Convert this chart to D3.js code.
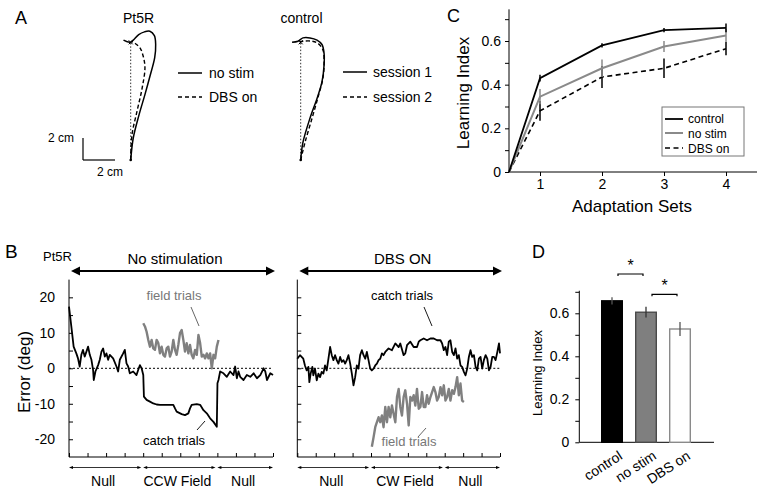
<!DOCTYPE html>
<html><head><meta charset="utf-8">
<script src="https://cdn.jsdelivr.net/npm/d3@7"></script>
<style>body{margin:0;background:#fff} svg{display:block} text{font-family:"Liberation Sans",Arial,Helvetica,sans-serif}</style>
</head><body><svg id="c" width="761" height="494"></svg>
<script>
// ---------- DATA ----------
// Panel A: hand trajectories (cm); [x, y]
const pt5rNoStim = [[0,0],[0.16,2.0],[0.52,4.1],[0.88,5.9],[1.22,7.7],[1.5,9.3],[1.56,10.5],[1.48,11.3],[1.2,11.7],[0.86,11.65],[0.5,11.4],[0.16,10.9],[-0.04,10.7],[-0.45,10.9]];
const pt5rDBS = [[0,0],[0.08,2.3],[0.39,4.4],[0.71,6.5],[0.89,8.4],[0.77,9.5],[0.58,10.2],[0.27,10.6],[0.02,10.8]];
const ctrlSession1 = [[0,0],[0.14,1.6],[0.58,3.8],[1.02,5.6],[1.33,7.1],[1.46,8.6],[1.46,9.7],[1.33,10.5],[1.02,10.9],[0.58,11.1],[0.14,11.1],[-0.17,10.8],[-0.54,10.7]];
const ctrlSession2 = [[0,0],[0.27,1.6],[0.71,3.8],[1.08,5.7],[1.39,7.45],[1.46,8.9],[1.39,10.0],[1.08,10.6],[0.71,10.8],[0.14,10.8],[-0.17,10.7]];
const targetDist = 10.7;

// Panel B: error (deg) vs trial; [trial, deg]
const noStimCatch = [[0,17.4],[2.5,11.8],[5,6.1],[7.9,4.2],[9.7,2.8],[11.5,0.5],[13.3,3.8],[15.1,5.2],[16.9,3.3],[18.8,4.7],[20.6,6.1],[22.4,3.8],[24.2,2.4],[26,-0.5],[26.7,-3.3],[28.5,-0.9],[31.4,0.9],[33.2,2.4],[35,4.7],[36.8,5.6],[38.6,3.3],[40.4,4.2],[42.2,2.4],[44,3.8],[47.6,2.8],[51.2,0.5],[53,-0.9],[54.8,2.4],[58.4,4.2],[60.2,5.2],[62,1.4],[63.8,0.5],[65.6,-1.4],[69.2,-0.9],[72.8,-1.9],[74.6,-0.5],[76.5,0.9],[78.3,0],[80.1,-1.9],[80.8,-8.0],[83.7,-8.9],[87.3,-9.4],[90.9,-9.9],[94.5,-10.2],[98.1,-10.3],[112.5,-10.3],[114.3,-11.3],[116.1,-12.2],[121.5,-12.9],[125.1,-13.2],[128.7,-12.7],[130.5,-11.3],[132.3,-10.3],[137.8,-10.1],[141.4,-10.3],[145,-11.8],[148.6,-12.7],[152.2,-14.1],[155.8,-15.1],[159.4,-16.5],[160.1,-4.2],[161.2,-3.3],[163,-0.9],[166.6,-1.4],[170.2,-2.4],[173.8,-0.9],[177.4,-1.9],[179.2,0.5],[181,-2.8],[182.8,-0.9],[184.6,-2.4],[188.2,-3.3],[191.8,-1.9],[195.5,-2.4],[199.1,-1.4],[202.7,-2.8],[206.3,-1.9],[209.9,0],[211.7,-0.9],[213.5,-3.3],[217.1,-1.4],[220,-1.9]];
const noStimField = [[80.1,12.7],[81.9,11.8],[83.7,10.3],[85.5,8.0],[87.3,6.1],[89.1,8.0],[90.9,5.6],[92.7,5.2],[94.5,8.0],[96.3,7.1],[98.1,4.2],[99.9,6.1],[101.7,3.8],[103.5,3.3],[105.3,5.6],[107.1,6.1],[108.9,3.3],[110.7,4.7],[112.5,8.0],[114.3,5.2],[116.1,3.8],[117.9,6.6],[119.7,9.9],[121.5,10.8],[123.3,8.0],[125.1,4.7],[126.9,7.1],[128.7,4.2],[130.5,6.6],[132.3,3.8],[134.1,2.8],[136,5.2],[137.8,3.8],[139.6,9.4],[141.4,7.1],[143.2,3.3],[145,3.8],[146.8,2.8],[148.6,4.2],[150.4,2.8],[152.2,4.2],[154,0],[155.8,3.8],[157.6,2.8],[159.4,6.1],[161.2,8.0]];
const dbsCatch = [[0,2.7],[2.9,3.7],[4.7,3.2],[6.5,2.7],[8.3,0.8],[10.2,-0.6],[12,0.4],[13.1,-3.9],[14.5,-1.5],[16.3,0.4],[17.4,-2.0],[19.2,-0.1],[21.1,-3.4],[22.9,-1.5],[24.7,-2.5],[26.5,-1.0],[28.3,-1.5],[30.1,0.8],[31.9,-0.6],[33.8,2.7],[35.6,6.0],[37.4,3.7],[39.2,2.3],[41,3.7],[42.8,2.3],[44.6,1.3],[46.5,3.2],[48.3,1.8],[50.1,2.3],[51.9,1.3],[53.7,2.3],[55.5,3.7],[57.4,1.3],[59.2,-1.5],[61,-4.8],[62.8,-2.5],[64.6,0.8],[66.4,-0.1],[68.2,3.7],[70.1,5.1],[71.9,3.7],[73.7,2.7],[75.5,4.6],[77.3,2.3],[79.1,-0.1],[80.9,-0.6],[82.8,-0.1],[84.6,0.8],[86.4,1.3],[88.2,2.3],[90,2.7],[91.8,4.2],[93.6,3.7],[95.5,4.6],[97.3,5.1],[99.1,5.6],[102.7,5.1],[106.4,7.0],[110,6.0],[111.8,7.0],[115.4,3.7],[117.2,4.2],[119.1,6.5],[122.7,7.5],[126.3,6.0],[129.9,6.0],[131.8,7.5],[133.6,7.9],[137.2,8.4],[140.8,7.9],[144.5,8.4],[148.1,8.4],[151.7,7.9],[155.4,7.9],[157.2,7.0],[159,5.1],[160.8,6.0],[162.6,3.7],[164.4,7.5],[166.2,7.9],[168.1,4.6],[169.9,3.7],[171.7,5.6],[173.5,2.7],[175.3,3.7],[177.1,0.8],[178.9,0.4],[180.8,-1.0],[182.6,-2.0],[184.4,-0.1],[186.2,3.2],[188,5.1],[189.8,3.2],[191.7,3.7],[193.5,0.4],[195.3,-0.6],[197.1,2.7],[198.9,3.2],[200.7,-0.1],[202.5,2.3],[204.4,3.7],[206.2,2.7],[208,-0.6],[209.8,0.4],[211.6,3.2],[213.4,3.2],[215.2,2.3],[217.1,4.6],[218.9,7.0],[220,4.2]];
const dbsField = [[80.9,-22.1],[82.8,-19.4],[84.6,-16.6],[86.4,-15.2],[88.2,-13.8],[90,-15.2],[91.8,-13.3],[93.6,-16.6],[95.5,-10.9],[97.3,-15.2],[99.1,-10.9],[100.9,-13.8],[102.7,-10.5],[104.5,-12.8],[106.4,-15.2],[108.2,-8.1],[110,-5.8],[111.8,-10.9],[113.6,-13.3],[115.4,-8.1],[117.2,-6.2],[119.1,-10.0],[120.9,-16.1],[122.7,-8.1],[124.5,-9.1],[126.3,-7.6],[128.1,-10.5],[129.9,-5.8],[131.8,-11.4],[133.6,-10.9],[135.4,-6.7],[137.2,-10.9],[139,-10.9],[140.8,-7.6],[142.6,-10.0],[144.5,-8.1],[146.3,-6.7],[148.1,-5.3],[149.9,-6.7],[151.7,-9.1],[153.5,-8.1],[155.4,-5.3],[157.2,-7.6],[159,-4.8],[160.8,-9.1],[162.6,-8.1],[164.4,-5.8],[166.2,-9.1],[168.1,-6.2],[169.9,-7.2],[171.7,-5.3],[173.5,-2.5],[175.3,-7.6],[177.1,-4.3],[178.9,-9.1],[180.8,-9.5]];
const bYTicks = [-20, -10, 0, 10, 20];
const leftPhases = ["Null", "CCW Field", "Null"];
const rightPhases = ["Null", "CW Field", "Null"];
const phaseBounds = [[0, 78], [80, 158], [160, 220]];

// Panel C: learning index by adaptation set
const setsX = [0.5, 1, 2, 3, 4];
const controlLI = [0, 0.43, 0.58, 0.65, 0.66];
const controlErr = [0, 0.015, 0.01, 0.01, 0.02];
const noStimLI = [0, 0.345, 0.475, 0.575, 0.625];
const noStimErr = [0, 0.035, 0.04, 0.025, 0.03];
const dbsLI = [0, 0.28, 0.435, 0.475, 0.565];
const dbsErr = [0, 0.045, 0.05, 0.045, 0.03];
const cTicks = [0, 0.2, 0.4, 0.6];

// Panel D: mean learning index
const dCategories = ["control", "no stim", "DBS on"];
const dValues = [0.658, 0.605, 0.527];
const dErrors = [0.017, 0.025, 0.033];
const dTicks = [0, 0.2, 0.4, 0.6];

// ---------- DRAW ----------
const svg = d3.select("#c");
const F = "Liberation Sans, Arial, sans-serif";
function txt(x, y, s, size, opts = {}) {
  return svg.append("text").attr("x", x).attr("y", y).text(s)
    .attr("font-size", size).attr("fill", opts.fill || "#000")
    .attr("text-anchor", opts.anchor || "start");
}
function seg(x1, y1, x2, y2, w = 1, c = "#000", dash = null) {
  const l = svg.append("line").attr("x1", x1).attr("y1", y1).attr("x2", x2).attr("y2", y2)
    .attr("stroke", c).attr("stroke-width", w);
  if (dash) l.attr("stroke-dasharray", dash);
  return l;
}
function dblArrow(x1, x2, y, w, hl, hw) {
  seg(x1 + hl * 0.5, y, x2 - hl * 0.5, y, w);
  svg.append("path").attr("d", `M${x1},${y}L${x1 + hl},${y - hw}L${x1 + hl},${y + hw}Z`).attr("fill", "#000");
  svg.append("path").attr("d", `M${x2},${y}L${x2 - hl},${y - hw}L${x2 - hl},${y + hw}Z`).attr("fill", "#000");
}

// ===== Panel A =====
txt(15, 24, "A", 18);
txt(138.5, 23, "Pt5R", 14, {anchor: "middle"});
txt(301.5, 23, "control", 14, {anchor: "middle"});
const yA = d3.scaleLinear([0, 1], [160, 149]);
function drawTraj(x0, solid, dashed) {
  const xA = d3.scaleLinear([0, 1], [x0, x0 + 16]);
  const line = d3.line().x(d => xA(d[0])).y(d => yA(d[1])).curve(d3.curveCatmullRom);
  seg(xA(0), yA(0), xA(0), yA(targetDist), 1, "#333", "1.5,1.8");
  svg.append("path").attr("d", line(dashed)).attr("fill", "none").attr("stroke", "#000").attr("stroke-width", 1.4).attr("stroke-dasharray", "4,2.5");
  svg.append("path").attr("d", line(solid)).attr("fill", "none").attr("stroke", "#000").attr("stroke-width", 1.5);
  svg.append("circle").attr("cx", xA(0)).attr("cy", yA(0)).attr("r", 1.3).attr("fill", "#000");
  seg(xA(0) - 2, yA(targetDist) - 2, xA(0) + 2, yA(targetDist) + 2, 1);
  seg(xA(0) - 2, yA(targetDist) + 2, xA(0) + 2, yA(targetDist) - 2, 1);
  return xA;
}
drawTraj(130.7, pt5rNoStim, pt5rDBS);
drawTraj(300.7, ctrlSession1, ctrlSession2);
seg(178, 73, 202, 73, 1.5); txt(209, 78, "no stim", 14);
seg(178, 97, 202, 97, 1.5, "#000", "4,3"); txt(209, 102, "DBS on", 14);
seg(343, 72, 367, 72, 1.5); txt(373, 77, "session 1", 14);
seg(343, 97, 367, 97, 1.5, "#000", "4,3"); txt(373, 102, "session 2", 14);
const sbX = d3.scaleLinear([0, 1], [83, 99]);
seg(sbX(0), yA(0), sbX(0), yA(2), 1.2);
seg(sbX(0), yA(0), sbX(2), yA(0), 1.2);
txt(74, 142, "2 cm", 12, {anchor: "end"});
txt(110, 176, "2 cm", 12, {anchor: "middle"});

// ===== Panel B =====
txt(5, 258, "B", 19);
txt(43, 261, "Pt5R", 13);
svg.append("text").attr("transform", "translate(30,372) rotate(-90)").attr("text-anchor", "middle")
  .attr("font-size", 17).text("Error (deg)");
const yB = d3.scaleLinear([-25, 25], [457, 279.6]);
function drawB(x0, x1, title, phases, catchD, fieldD, showLabels, catchLbl, fieldLbl) {
  const xB = d3.scaleLinear([0, 220], [x0, x1]);
  seg(x0, yB(25), x0, yB(-25), 1);
  seg(x0, yB(-25), x1, yB(-25), 1);
  const ya = d3.axisLeft(yB).tickValues(d3.range(-20, 21, 5)).tickSize(-4).tickPadding(14)
    .tickFormat(d => (showLabels && bYTicks.includes(d)) ? d : "");
  const g = svg.append("g").attr("transform", `translate(${x0},0)`).call(ya);
  g.select(".domain").remove();
  g.selectAll("text").attr("font-size", 14).attr("font-family", F);
  const xa = d3.axisBottom(xB).tickValues(d3.range(0, 221, 20)).tickSize(-4).tickFormat("");
  const gx = svg.append("g").attr("transform", `translate(0,${yB(-25)})`).call(xa);
  gx.select(".domain").remove();
  seg(x0, yB(0), x1, yB(0), 1, "#000", "2,2");
  const line = d3.line().x(d => xB(d[0])).y(d => yB(d[1]));
  svg.append("path").attr("d", line(fieldD)).attr("fill", "none").attr("stroke", "#808080").attr("stroke-width", 2.4).attr("stroke-linejoin", "round");
  svg.append("path").attr("d", line(catchD)).attr("fill", "none").attr("stroke", "#000").attr("stroke-width", 1.8).attr("stroke-linejoin", "round");
  dblArrow(x0 + 2, x1 + 2, 271, 2, 9, 4.5);
  txt((x0 + x1) / 2 + 4, 264, title, 15, {anchor: "middle"});
  phases.forEach((p, i) => {
    const a = xB(phaseBounds[i][0]), b = xB(phaseBounds[i][1]);
    dblArrow(a, b, 467.5, 0.8, 4, 1.6);
    txt((a + b) / 2 - 2, 486, p, 14, {anchor: "middle"});
  });
  catchLbl(xB); fieldLbl(xB);
}
drawB(69, 273, "No stimulation", leftPhases, noStimCatch, noStimField, true,
  xB => { txt(174, 445, "catch trials", 13, {anchor: "middle"}); seg(197, 430, 205, 421, 0.9); },
  xB => { txt(174, 300, "field trials", 13, {anchor: "middle", fill: "#777"}); seg(191, 307, 199, 326, 0.9, "#555"); });
drawB(297.3, 500, "DBS ON", rightPhases, dbsCatch, dbsField, false,
  xB => { txt(402, 300, "catch trials", 13, {anchor: "middle"}); seg(424, 307, 432, 326, 0.9); },
  xB => { txt(409, 446, "field trials", 13, {anchor: "middle", fill: "#777"}); seg(418, 437, 426, 428, 0.9, "#555"); });

// ===== Panel C =====
txt(447, 22, "C", 18);
const xC = d3.scaleLinear([0.5, 4.5], [509, 757]);
const yC = d3.scaleLinear([0, 0.6], [172, 41]);
seg(509, yC(0), 509, yC(0.745), 1);
seg(509, yC(0), 757, yC(0), 1);
const gyc = svg.append("g").attr("transform", "translate(509,0)")
  .call(d3.axisLeft(yC).tickValues([0, 0.1, 0.2, 0.3, 0.4, 0.5, 0.6, 0.7]).tickSize(4).tickPadding(4)
    .tickFormat(d => cTicks.some(t => Math.abs(t - d) < 1e-9) ? (d === 0 ? "0" : d3.format(".1f")(d)) : ""));
gyc.select(".domain").remove();
gyc.selectAll("text").attr("font-size", 14).attr("font-family", F);
const gxc = svg.append("g").attr("transform", `translate(0,${yC(0)})`)
  .call(d3.axisBottom(xC).tickValues([1, 2, 3, 4]).tickSize(4).tickPadding(3).tickFormat(d3.format("d")));
gxc.select(".domain").remove();
gxc.selectAll("text").attr("font-size", 14).attr("font-family", F);
txt(632, 212, "Adaptation Sets", 17, {anchor: "middle"});
svg.append("text").attr("transform", "translate(469,93) rotate(-90)").attr("text-anchor", "middle")
  .attr("font-size", 17).text("Learning Index");
const seriesC = [
  {v: dbsLI, e: dbsErr, c: "#000", w: 1.6, dash: "5,3.5"},
  {v: noStimLI, e: noStimErr, c: "#8a8a8a", w: 2, dash: null},
  {v: controlLI, e: controlErr, c: "#000", w: 1.8, dash: null}
];
const lineC = d3.line().x(d => xC(d[0])).y(d => yC(d[1]));
seriesC.forEach(s => {
  const pts = setsX.map((x, i) => [x, s.v[i]]);
  const p = svg.append("path").attr("d", lineC(pts)).attr("fill", "none").attr("stroke", s.c).attr("stroke-width", s.w);
  if (s.dash) p.attr("stroke-dasharray", s.dash);
  setsX.forEach((x, i) => {
    if (s.e[i] > 0) seg(xC(x), yC(s.v[i] - s.e[i]), xC(x), yC(s.v[i] + s.e[i]), 1.5, s.c);
  });
});
svg.append("rect").attr("x", 662).attr("y", 107).attr("width", 82).attr("height", 49)
  .attr("fill", "#fff").attr("stroke", "#777").attr("stroke-width", 1);
seg(665, 119, 683, 119, 1.8, "#000"); txt(688, 123, "control", 12);
seg(665, 133, 683, 133, 2, "#8a8a8a"); txt(688, 137.5, "no stim", 12);
seg(665, 148, 683, 148, 1.6, "#000", "5,3.5"); txt(688, 152.5, "DBS on", 12);

// ===== Panel D =====
txt(532, 258, "D", 18);
const yD = d3.scaleLinear([0, 0.7], [442.3, 291.8]);
const xD = d3.scalePoint(dCategories, [612, 680]);
const bw = 20.6;
seg(579.3, yD(0), 579.3, yD(0.705), 1);
seg(579.3, yD(0), 714, yD(0), 1);
const gyd = svg.append("g").attr("transform", "translate(579.3,0)")
  .call(d3.axisLeft(yD).tickValues([0, 0.1, 0.2, 0.3, 0.4, 0.5, 0.6, 0.7]).tickSize(4).tickPadding(6)
    .tickFormat(d => dTicks.some(t => Math.abs(t - d) < 1e-9) ? (d === 0 ? "0" : d3.format(".1f")(d)) : ""));
gyd.select(".domain").remove();
gyd.selectAll("text").attr("font-size", 14).attr("font-family", F);
svg.append("text").attr("transform", "translate(542,373) rotate(-90)").attr("text-anchor", "middle")
  .attr("font-size", 13).text("Learning Index");
const fills = ["#000", "#7f7f7f", "#fff"], strokes = ["#000", "#4a4a4a", "#8a8a8a"], errC = ["#555", "#333", "#555"];
dCategories.forEach((c, i) => {
  svg.append("rect").attr("x", xD(c) - bw / 2).attr("y", yD(dValues[i])).attr("width", bw)
    .attr("height", yD(0) - yD(dValues[i])).attr("fill", fills[i]).attr("stroke", strokes[i]).attr("stroke-width", 1.4);
  seg(xD(c), yD(dValues[i] - dErrors[i]), xD(c), yD(dValues[i] + dErrors[i]), 1.3, errC[i]);
  svg.append("text").attr("transform", `translate(${xD(c) + 6},450) rotate(-33)`).attr("text-anchor", "end")
    .attr("dy", "0.7em").attr("font-size", 14).text(c);
});
function sig(a, b, y) {
  const x1 = xD(a) + 6, x2 = xD(b) - 3;
  svg.append("path").attr("d", `M${x1},${y + 2}V${y}H${x2}V${y + 2}`).attr("fill", "none").attr("stroke", "#000").attr("stroke-width", 1.2);
  txt((x1 + x2) / 2, y - 3, "*", 16, {anchor: "middle"});
}
sig("control", "no stim", 274);
sig("no stim", "DBS on", 294.3);
</script></body></html>
